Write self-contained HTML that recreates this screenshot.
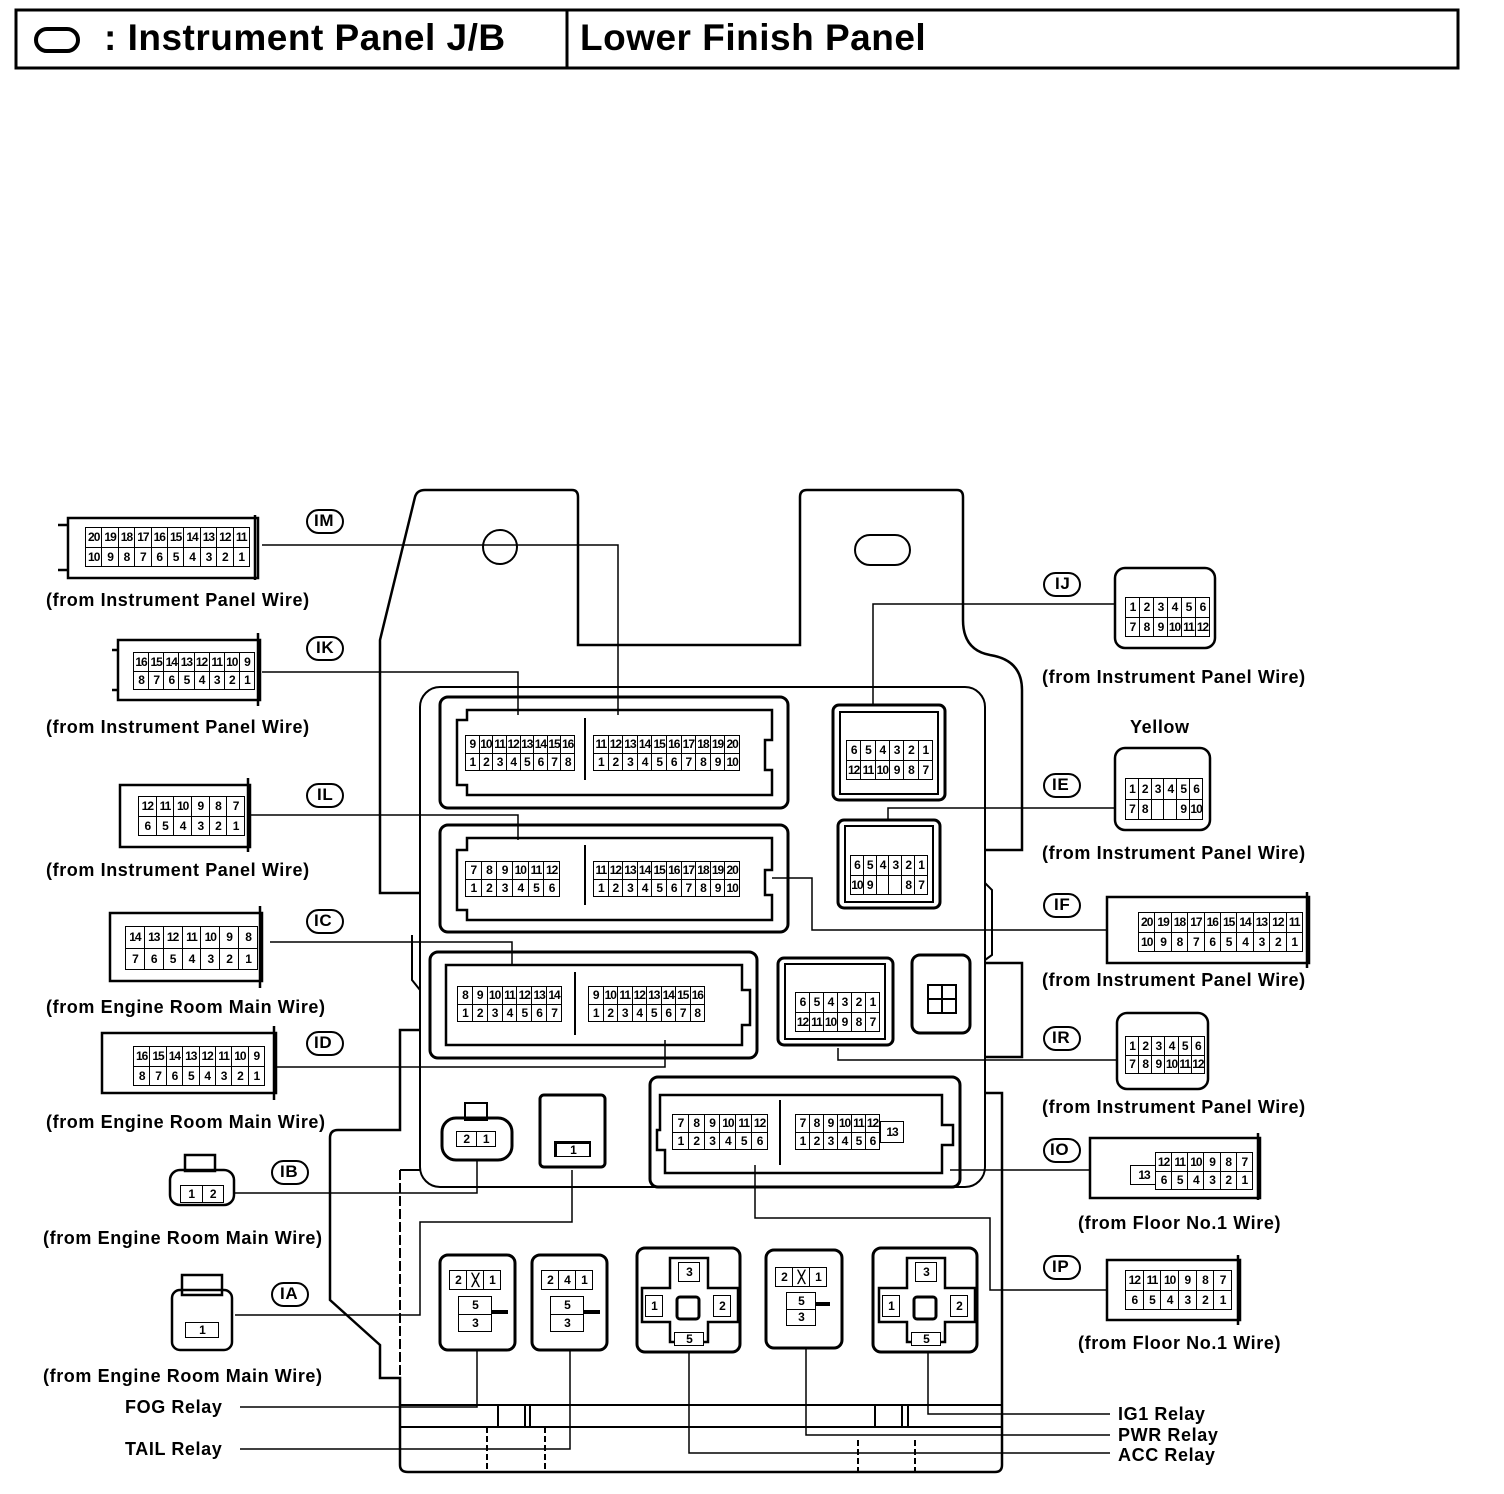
<!DOCTYPE html>
<html><head><meta charset="utf-8"><style>
body{margin:0;background:#fff;width:1504px;height:1494px;position:relative;overflow:hidden;font-family:"Liberation Sans",Arial,sans-serif;font-weight:bold;}
.t{position:absolute;font-size:18px;white-space:nowrap;color:#000;letter-spacing:0.6px}
table.g{position:absolute;border-collapse:collapse;font-size:12px;font-weight:bold;table-layout:fixed;background:#fff}
table.g td{border:1.6px solid #000;text-align:center;padding:0;line-height:1;overflow:hidden;letter-spacing:-1px}
table.g td.n{border:none}
</style></head><body>
<svg width="1504" height="1494" style="position:absolute;left:0;top:0" fill="none" stroke="#000" stroke-width="2">
<rect x="16" y="10" width="1442" height="58" stroke-width="3"/>
<line x1="567" y1="10" x2="567" y2="68" stroke-width="3"/>
<rect x="36" y="29" width="42" height="22" rx="11" stroke-width="4"/>
<!-- J/B outline -->
<path d="M420,893 L380,893 L380,640 L415,497 Q417,490 425,490 L572,490 Q578,490 578,497 L578,645 L800,645 L800,497 Q800,490 807,490 L957,490 Q963,490 963,497 L963,620 Q963,650 990,655 Q1022,660 1022,690 L1022,850 L985,850" stroke-width="2.5"/>
<path d="M412,935 L412,980 L420,990"/>
<path d="M420,1030 L400,1030 L400,1130 L338,1130 Q330,1130 330,1138 L330,1300 L380,1345 L380,1378 L400,1378 L400,1465 Q400,1472 408,1472 L995,1472 Q1002,1472 1002,1465 L1002,1093 L985,1093" stroke-width="2.5"/>
<path d="M400,1170 L420,1170"/>
<path d="M400,1170 L400,1378" stroke-dasharray="10,3"/>
<path d="M985,963 L1022,963 L1022,1057 L985,1057" stroke-width="2.5"/>
<path d="M985,883 L992,890 L992,955 L985,960"/>
<rect x="420" y="687" width="565" height="500" rx="20"/>
<circle cx="500" cy="547" r="17"/>
<rect x="855" y="535" width="55" height="30" rx="15"/>
<line x1="400" y1="1405" x2="1002" y2="1405"/>
<line x1="400" y1="1427" x2="1002" y2="1427"/>
<path d="M498,1427 L498,1405 M525,1427 L525,1405 M530,1427 L530,1405"/>
<path d="M875,1427 L875,1405 M902,1427 L902,1405 M908,1427 L908,1405"/>
<path d="M487,1427 L487,1472 M545,1427 L545,1472 M858,1440 L858,1472 M915,1440 L915,1472" stroke-dasharray="6,3"/>
<!-- internal connector housings -->
<rect x="440" y="697" width="348" height="111" rx="8" stroke-width="3"/>
<path d="M457,720 L467,720 L467,710 L772,710 L772,740 L765,740 L765,770 L772,770 L772,795 L467,795 L467,785 L457,785 Z" stroke-width="2.5"/>
<line x1="585" y1="718" x2="585" y2="780"/>
<rect x="440" y="825" width="348" height="107" rx="8" stroke-width="3"/>
<path d="M457,850 L467,850 L467,838 L772,838 L772,870 L765,870 L765,895 L772,895 L772,920 L467,920 L467,910 L457,910 Z" stroke-width="2.5"/>
<line x1="585" y1="845" x2="585" y2="905"/>
<rect x="430" y="952" width="327" height="106" rx="8" stroke-width="3"/>
<path d="M446,965 L742,965 L742,990 L750,990 L750,1025 L742,1025 L742,1045 L446,1045 Z" stroke-width="2.5"/>
<line x1="575" y1="972" x2="575" y2="1035"/>
<rect x="833" y="705" width="112" height="95" rx="6" stroke-width="3"/>
<rect x="840" y="712" width="98" height="82" stroke-width="2"/>
<rect x="838" y="820" width="102" height="88" rx="6" stroke-width="3"/>
<rect x="845" y="826" width="88" height="76" stroke-width="2"/>
<rect x="778" y="958" width="115" height="87" rx="6" stroke-width="3"/>
<rect x="785" y="964" width="100" height="75" stroke-width="2"/>
<rect x="912" y="955" width="58" height="78" rx="8" stroke-width="3"/>
<rect x="928" y="985" width="28" height="28" stroke-width="2"/><path d="M942,985 L942,1013 M928,999 L956,999"/>
<rect x="650" y="1077" width="310" height="110" rx="8" stroke-width="3"/>
<path d="M660,1095 L942,1095 L942,1125 L953,1125 L953,1145 L942,1145 L942,1173 L665,1173 L665,1150 L657,1150 L657,1130 L660,1130 Z" stroke-width="2.5"/>
<line x1="780" y1="1100" x2="780" y2="1165"/>
<rect x="442" y="1118" width="70" height="42" rx="14" stroke-width="3"/>
<rect x="465" y="1103" width="22" height="17"/>
<rect x="540" y="1095" width="65" height="72" rx="4" stroke-width="3"/>
<rect x="555" y="1142" width="35" height="14"/>
<!-- relays -->
<rect x="440" y="1255" width="75" height="95" rx="8" stroke-width="3"/>
<rect x="532" y="1255" width="75" height="95" rx="8" stroke-width="3"/>
<rect x="637" y="1248" width="103" height="104" rx="8" stroke-width="3"/>
<rect x="766" y="1250" width="76" height="98" rx="8" stroke-width="3"/>
<rect x="873" y="1248" width="104" height="104" rx="8" stroke-width="3"/>
<path d="M670,1258 L708,1258 L708,1288 L738,1288 L738,1322 L708,1322 L708,1342 L670,1342 L670,1322 L642,1322 L642,1288 L670,1288 Z" stroke-width="2.5"/>
<path d="M907,1258 L945,1258 L945,1288 L975,1288 L975,1322 L945,1322 L945,1342 L907,1342 L907,1322 L879,1322 L879,1288 L907,1288 Z" stroke-width="2.5"/>
<rect x="677" y="1297" width="22" height="22" rx="3" stroke-width="3"/>
<rect x="914" y="1297" width="22" height="22" rx="3" stroke-width="3"/>
<path d="M492,1312 L508,1312 M584,1312 L600,1312 M816,1304 L830,1304" stroke-width="4"/>
<g stroke-width="2">
<rect x="307" y="510" width="36" height="23" rx="11.5"/>
<rect x="307" y="637" width="36" height="23" rx="11.5"/>
<rect x="307" y="784" width="36" height="23" rx="11.5"/>
<rect x="307" y="910" width="36" height="23" rx="11.5"/>
<rect x="307" y="1032" width="36" height="23" rx="11.5"/>
<rect x="272" y="1161" width="36" height="23" rx="11.5"/>
<rect x="272" y="1283" width="36" height="23" rx="11.5"/>
<rect x="1044" y="573" width="36" height="23" rx="11.5"/>
<rect x="1044" y="774" width="36" height="23" rx="11.5"/>
<rect x="1044" y="894" width="36" height="23" rx="11.5"/>
<rect x="1044" y="1027" width="36" height="23" rx="11.5"/>
<rect x="1044" y="1139" width="36" height="23" rx="11.5"/>
<rect x="1044" y="1256" width="36" height="23" rx="11.5"/>
</g>
<g stroke-width="1.5">
<path d="M262,545 L618,545 L618,715"/>
<path d="M262,672 L518,672 L518,715"/>
<path d="M250,815 L518,815 L518,840"/>
<path d="M270,942 L512,942 L512,965"/>
<path d="M277,1067 L665,1067 L665,1040"/>
<path d="M235,1193 L477,1193 L477,1160"/>
<path d="M235,1315 L420,1315 L420,1222 L572,1222 L572,1170"/>
<path d="M1115,604 L873,604 L873,705"/>
<path d="M1115,808 L888,808 L888,820"/>
<path d="M1107,930 L812,930 L812,878 L772,878"/>
<path d="M1117,1060 L838,1060 L838,1048"/>
<path d="M1090,1170 L950,1170"/>
<path d="M1107,1290 L990,1290 L990,1218 L755,1218 L755,1165"/>
<path d="M240,1407 L477,1407 L477,1350"/>
<path d="M240,1449 L570,1449 L570,1350"/>
<path d="M1110,1414 L928,1414 L928,1352"/>
<path d="M1110,1435 L806,1435 L806,1348"/>
<path d="M1110,1453 L689,1453 L689,1352"/>
</g>
<g stroke-width="2.5">
<rect x="68" y="518" width="190" height="60"/><path d="M58,525 L68,525 M58,570 L68,570 M255,515 L255,580"/>
<rect x="118" y="640" width="142" height="60"/><path d="M112,650 L118,650 M112,690 L118,690 M258,633 L258,706"/>
<rect x="120" y="785" width="130" height="62"/><path d="M248,778 L248,852"/>
<rect x="110" y="913" width="152" height="68"/><path d="M260,906 L260,988"/>
<rect x="102" y="1033" width="174" height="60"/><path d="M274,1026 L274,1100"/>
<rect x="170" y="1170" width="64" height="35" rx="10"/><rect x="185" y="1155" width="30" height="16"/>
<rect x="172" y="1290" width="60" height="60" rx="8"/><rect x="182" y="1275" width="40" height="20"/>
<rect x="1115" y="568" width="100" height="80" rx="10"/>
<rect x="1115" y="748" width="95" height="82" rx="10"/>
<rect x="1107" y="897" width="202" height="66"/><path d="M1307,892 L1307,968"/>
<rect x="1117" y="1013" width="91" height="76" rx="10"/>
<rect x="1090" y="1138" width="170" height="60"/><path d="M1258,1133 L1258,1200"/>
<rect x="1107" y="1260" width="133" height="60"/><path d="M1238,1255 L1238,1325"/>
</g>
</svg>

<div class="t" style="left:104px;top:17px;font-size:37px;letter-spacing:0.5px">: Instrument Panel J/B</div>
<div class="t" style="left:580px;top:17px;font-size:37px;letter-spacing:0.5px">Lower Finish Panel</div>

<div class="t" style="left:314px;top:511px;font-size:17px">IM</div>
<div class="t" style="left:316px;top:638px;font-size:17px">IK</div>
<div class="t" style="left:317px;top:785px;font-size:17px">IL</div>
<div class="t" style="left:314px;top:911px;font-size:17px">IC</div>
<div class="t" style="left:314px;top:1033px;font-size:17px">ID</div>
<div class="t" style="left:280px;top:1162px;font-size:17px">IB</div>
<div class="t" style="left:280px;top:1284px;font-size:17px">IA</div>
<div class="t" style="left:1055px;top:574px;font-size:17px">IJ</div>
<div class="t" style="left:1052px;top:775px;font-size:17px">IE</div>
<div class="t" style="left:1054px;top:895px;font-size:17px">IF</div>
<div class="t" style="left:1052px;top:1028px;font-size:17px">IR</div>
<div class="t" style="left:1050px;top:1140px;font-size:17px">IO</div>
<div class="t" style="left:1052px;top:1257px;font-size:17px">IP</div>

<div class="t" style="left:46px;top:590px">(from Instrument Panel Wire)</div>
<div class="t" style="left:46px;top:717px">(from Instrument Panel Wire)</div>
<div class="t" style="left:46px;top:860px">(from Instrument Panel Wire)</div>
<div class="t" style="left:46px;top:997px">(from Engine Room Main Wire)</div>
<div class="t" style="left:46px;top:1112px">(from Engine Room Main Wire)</div>
<div class="t" style="left:43px;top:1228px">(from Engine Room Main Wire)</div>
<div class="t" style="left:43px;top:1366px">(from Engine Room Main Wire)</div>
<div class="t" style="left:1042px;top:667px">(from Instrument Panel Wire)</div>
<div class="t" style="left:1130px;top:717px">Yellow</div>
<div class="t" style="left:1042px;top:843px">(from Instrument Panel Wire)</div>
<div class="t" style="left:1042px;top:970px">(from Instrument Panel Wire)</div>
<div class="t" style="left:1042px;top:1097px">(from Instrument Panel Wire)</div>
<div class="t" style="left:1078px;top:1213px">(from Floor No.1 Wire)</div>
<div class="t" style="left:1078px;top:1333px">(from Floor No.1 Wire)</div>
<div class="t" style="left:125px;top:1397px">FOG Relay</div>
<div class="t" style="left:125px;top:1439px">TAIL Relay</div>
<div class="t" style="left:1118px;top:1404px">IG1 Relay</div>
<div class="t" style="left:1118px;top:1425px">PWR Relay</div>
<div class="t" style="left:1118px;top:1445px">ACC Relay</div>

<table class="g" style="left:85px;top:527px;width:165px;height:40px"><tr><td>20<td>19<td>18<td>17<td>16<td>15<td>14<td>13<td>12<td>11</tr><tr><td>10<td>9<td>8<td>7<td>6<td>5<td>4<td>3<td>2<td>1</tr></table>
<table class="g" style="left:133px;top:652px;width:122px;height:38px"><tr><td>16<td>15<td>14<td>13<td>12<td>11<td>10<td>9</tr><tr><td>8<td>7<td>6<td>5<td>4<td>3<td>2<td>1</tr></table>
<table class="g" style="left:138px;top:796px;width:107px;height:40px"><tr><td>12<td>11<td>10<td>9<td>8<td>7</tr><tr><td>6<td>5<td>4<td>3<td>2<td>1</tr></table>
<table class="g" style="left:125px;top:926px;width:133px;height:44px"><tr><td>14<td>13<td>12<td>11<td>10<td>9<td>8</tr><tr><td>7<td>6<td>5<td>4<td>3<td>2<td>1</tr></table>
<table class="g" style="left:133px;top:1046px;width:132px;height:40px"><tr><td>16<td>15<td>14<td>13<td>12<td>11<td>10<td>9</tr><tr><td>8<td>7<td>6<td>5<td>4<td>3<td>2<td>1</tr></table>
<table class="g" style="left:180px;top:1185px;width:44px;height:18px"><tr><td>1<td>2</tr></table>
<table class="g" style="left:185px;top:1322px;width:34px;height:16px"><tr><td>1</tr></table>
<table class="g" style="left:1125px;top:597px;width:85px;height:40px"><tr><td>1<td>2<td>3<td>4<td>5<td>6</tr><tr><td>7<td>8<td>9<td>10<td>11<td>12</tr></table>
<table class="g" style="left:1125px;top:778px;width:78px;height:42px"><tr><td>1<td>2<td>3<td>4<td>5<td>6</tr><tr><td>7<td>8<td>&nbsp;<td>&nbsp;<td>9<td>10</tr></table>
<table class="g" style="left:1138px;top:912px;width:165px;height:40px"><tr><td>20<td>19<td>18<td>17<td>16<td>15<td>14<td>13<td>12<td>11</tr><tr><td>10<td>9<td>8<td>7<td>6<td>5<td>4<td>3<td>2<td>1</tr></table>
<table class="g" style="left:1125px;top:1036px;width:80px;height:38px"><tr><td>1<td>2<td>3<td>4<td>5<td>6</tr><tr><td>7<td>8<td>9<td>10<td>11<td>12</tr></table>
<table class="g" style="left:1130px;top:1165px;width:28px;height:20px"><tr><td>13</tr></table>
<table class="g" style="left:1155px;top:1152px;width:98px;height:38px"><tr><td>12<td>11<td>10<td>9<td>8<td>7</tr><tr><td>6<td>5<td>4<td>3<td>2<td>1</tr></table>
<table class="g" style="left:1125px;top:1270px;width:107px;height:40px"><tr><td>12<td>11<td>10<td>9<td>8<td>7</tr><tr><td>6<td>5<td>4<td>3<td>2<td>1</tr></table>

<table class="g" style="left:465px;top:735px;width:110px;height:36px"><tr><td>9<td>10<td>11<td>12<td>13<td>14<td>15<td>16</tr><tr><td>1<td>2<td>3<td>4<td>5<td>6<td>7<td>8</tr></table>
<table class="g" style="left:593px;top:735px;width:147px;height:36px"><tr><td>11<td>12<td>13<td>14<td>15<td>16<td>17<td>18<td>19<td>20</tr><tr><td>1<td>2<td>3<td>4<td>5<td>6<td>7<td>8<td>9<td>10</tr></table>
<table class="g" style="left:465px;top:861px;width:95px;height:36px"><tr><td>7<td>8<td>9<td>10<td>11<td>12</tr><tr><td>1<td>2<td>3<td>4<td>5<td>6</tr></table>
<table class="g" style="left:593px;top:861px;width:147px;height:36px"><tr><td>11<td>12<td>13<td>14<td>15<td>16<td>17<td>18<td>19<td>20</tr><tr><td>1<td>2<td>3<td>4<td>5<td>6<td>7<td>8<td>9<td>10</tr></table>
<table class="g" style="left:457px;top:986px;width:105px;height:36px"><tr><td>8<td>9<td>10<td>11<td>12<td>13<td>14</tr><tr><td>1<td>2<td>3<td>4<td>5<td>6<td>7</tr></table>
<table class="g" style="left:588px;top:986px;width:117px;height:36px"><tr><td>9<td>10<td>11<td>12<td>13<td>14<td>15<td>16</tr><tr><td>1<td>2<td>3<td>4<td>5<td>6<td>7<td>8</tr></table>
<table class="g" style="left:846px;top:740px;width:87px;height:40px"><tr><td>6<td>5<td>4<td>3<td>2<td>1</tr><tr><td>12<td>11<td>10<td>9<td>8<td>7</tr></table>
<table class="g" style="left:850px;top:855px;width:78px;height:40px"><tr><td>6<td>5<td>4<td>3<td>2<td>1</tr><tr><td>10<td>9<td>&nbsp;<td>&nbsp;<td>8<td>7</tr></table>
<table class="g" style="left:795px;top:992px;width:85px;height:40px"><tr><td>6<td>5<td>4<td>3<td>2<td>1</tr><tr><td>12<td>11<td>10<td>9<td>8<td>7</tr></table>
<table class="g" style="left:672px;top:1114px;width:96px;height:36px"><tr><td>7<td>8<td>9<td>10<td>11<td>12</tr><tr><td>1<td>2<td>3<td>4<td>5<td>6</tr></table>
<table class="g" style="left:795px;top:1114px;width:85px;height:36px"><tr><td>7<td>8<td>9<td>10<td>11<td>12</tr><tr><td>1<td>2<td>3<td>4<td>5<td>6</tr></table>
<table class="g" style="left:880px;top:1121px;width:24px;height:22px"><tr><td>13</tr></table>
<table class="g" style="left:456px;top:1131px;width:40px;height:16px"><tr><td>2<td>1</tr></table>
<table class="g" style="left:556px;top:1143px;width:34px;height:13px"><tr><td>1</tr></table>
<table class="g" style="left:449px;top:1270px;width:52px;height:20px"><tr><td>2<td>&#x2573;<td>1</tr></table>
<table class="g" style="left:458px;top:1296px;width:34px;height:36px"><tr><td>5</tr><tr><td>3</tr></table>
<table class="g" style="left:541px;top:1270px;width:52px;height:20px"><tr><td>2<td>4<td>1</tr></table>
<table class="g" style="left:550px;top:1296px;width:34px;height:36px"><tr><td>5</tr><tr><td>3</tr></table>
<table class="g" style="left:775px;top:1267px;width:52px;height:20px"><tr><td>2<td>&#x2573;<td>1</tr></table>
<table class="g" style="left:786px;top:1292px;width:30px;height:34px"><tr><td>5</tr><tr><td>3</tr></table>
<table class="g" style="left:678px;top:1262px;width:22px;height:20px"><tr><td>3</tr></table>
<table class="g" style="left:645px;top:1295px;width:18px;height:22px"><tr><td>1</tr></table>
<table class="g" style="left:713px;top:1295px;width:18px;height:22px"><tr><td>2</tr></table>
<table class="g" style="left:674px;top:1332px;width:30px;height:14px"><tr><td>5</tr></table>
<table class="g" style="left:915px;top:1262px;width:22px;height:20px"><tr><td>3</tr></table>
<table class="g" style="left:882px;top:1295px;width:18px;height:22px"><tr><td>1</tr></table>
<table class="g" style="left:950px;top:1295px;width:18px;height:22px"><tr><td>2</tr></table>
<table class="g" style="left:911px;top:1332px;width:30px;height:14px"><tr><td>5</tr></table>
</body></html>
